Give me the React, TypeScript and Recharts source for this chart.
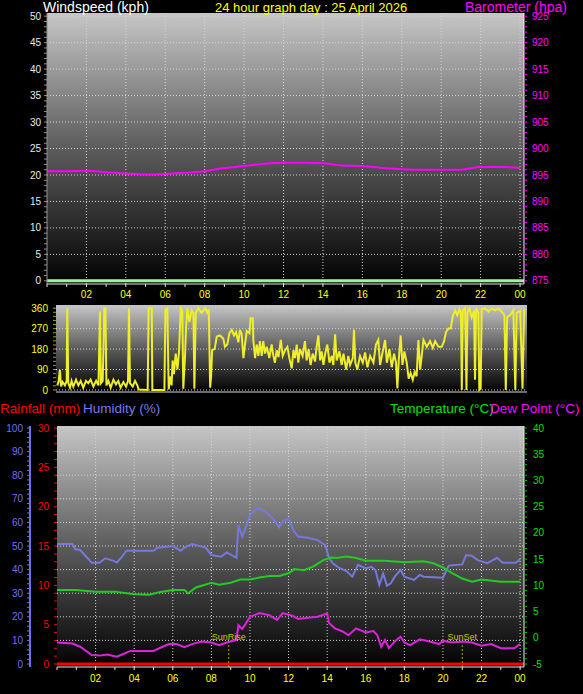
import React from "react";
import { LineChart, Line, XAxis, YAxis, CartesianGrid, ReferenceLine } from "recharts";

// ---- time axis (hours of the day) ----
const hourTicks = [0, 1, 2, 3, 4, 5, 6, 7, 8, 9, 10, 11, 12, 13, 14, 15, 16, 17, 18, 19, 20, 21, 22, 23, 24];
const evenHours = [2, 4, 6, 8, 10, 12, 14, 16, 18, 20, 22, 24];

// ---- top panel: windspeed + barometer ----
const windLabels = [0, 5, 10, 15, 20, 25, 30, 35, 40, 45, 50];
const baroLabels = [875, 880, 885, 890, 895, 900, 905, 910, 915, 920, 925];
const windHours = [0, 24.2];
const windValues = [0, 0];
const baroHours = [0, 1, 2, 3, 4, 5, 6, 7, 8, 9, 10, 11, 12, 13, 14, 15, 16, 17, 18, 19, 20, 21, 22, 23, 24];
const baroValues = [
  895.7, 895.7, 895.8, 895.5, 895.3, 895.1, 895.2, 895.4, 895.7, 896.3, 896.7, 897.1, 897.3,
  897.3, 897.2, 896.8, 896.7, 896.3, 896.1, 896.0, 896.0, 896.0, 896.5, 896.5, 896.3,
];

// ---- middle panel: wind direction ----
const dirLabels = [0, 90, 180, 270, 360];
const compassLabels = ["N", "E", "S", "W", "N"];
const dirHours = [
  0.07, 0.14, 0.2, 0.26, 0.34, 0.46, 0.55, 0.58, 0.63, 0.72, 0.8, 0.89, 1.03, 1.15, 1.27, 1.4, 1.54,
  1.66, 1.78, 1.92, 2.06, 2.18, 2.26, 2.31, 2.4, 2.48, 2.54, 2.59, 2.69, 2.81, 2.95, 3.08, 3.2, 3.32,
  3.46, 3.6, 3.7, 3.75, 3.8, 3.94, 4.06, 4.18, 4.25, 4.71, 4.76, 4.92, 4.95, 5.57, 5.62, 5.72, 5.79,
  5.86, 5.94, 5.99, 6.06, 6.15, 6.24, 6.32, 6.41, 6.49, 6.54, 6.63, 6.68, 6.75, 6.85, 6.97, 7.06,
  7.11, 7.18, 7.31, 7.48, 7.66, 7.77, 7.85, 7.92, 7.97, 8.02, 8.15, 8.26, 8.43, 8.6, 8.68, 8.8,
  8.91, 9.03, 9.15, 9.25, 9.37, 9.45, 9.54, 9.63, 9.71, 9.8, 9.94, 10.0, 10.11, 10.14, 10.23, 10.31,
  10.4, 10.48, 10.57, 10.65, 10.74, 10.83, 10.96, 11.08, 11.17, 11.25, 11.34, 11.43, 11.55, 11.65,
  11.77, 11.89, 11.99, 12.11, 12.2, 12.28, 12.37, 12.45, 12.54, 12.67, 12.79, 12.88, 12.98, 13.08,
  13.19, 13.31, 13.39, 13.48, 13.57, 13.65, 13.74, 13.83, 13.94, 14.05, 14.17, 14.25, 14.34, 14.42,
  14.56, 14.68, 14.77, 14.91, 15.02, 15.11, 15.25, 15.31, 15.38, 15.48, 15.62, 15.76, 15.88, 16.0,
  16.14, 16.31, 16.44, 16.56, 16.65, 16.79, 16.91, 17.0, 17.13, 17.25, 17.37, 17.47, 17.54, 17.61,
  17.71, 17.8, 17.9, 18.02, 18.12, 18.22, 18.33, 18.43, 18.53, 18.62, 18.71, 18.79, 18.88, 19.05,
  19.22, 19.36, 19.48, 19.65, 19.82, 19.94, 20.04, 20.16, 20.28, 20.39, 20.5, 20.62, 20.73, 20.81,
  20.85, 20.9, 21.02, 21.09, 21.14, 21.24, 21.36, 21.48, 21.53, 21.58, 21.7, 21.75, 21.82, 21.87,
  22.05, 22.22, 22.39, 22.56, 22.73, 22.9, 23.04, 23.11, 23.18, 23.33, 23.5, 23.6, 23.67, 23.85,
  23.97, 24.05,
];
const dirValues = [
  20, 40, 88, 15, 35, 20, 40, 360, 30, 10, 40, 15, 45, 20, 40, 10, 40,
  30, 45, 15, 40, 20, 345, 30, 40, 360, 360, 20, 40, 10, 45, 25, 40, 10,
  35, 15, 40, 360, 30, 15, 40, 20, 2, 0, 360, 360, 0, 0, 355, 360, 2,
  60, 20, 130, 70, 160, 90, 170, 360, 350, 5, 150, 270, 360, 300, 350, 340,
  5, 340, 360, 340, 360, 340, 355, 10, 60, 175, 180, 235, 240, 225, 190, 200,
  250, 265, 240, 255, 210, 265, 245, 140, 200, 260, 250, 316, 316, 220, 140, 200,
  150, 215, 150, 215, 160, 190, 140, 200, 150, 120, 175, 145, 220, 150,
  175, 190, 140, 95, 175, 140, 200, 120, 180, 150, 215, 130, 180, 110,
  160, 125, 190, 240, 130, 170, 110, 160, 200, 120, 150, 110, 245, 130,
  170, 110, 160, 90, 150, 110, 140, 265, 120, 90, 150, 120, 165, 100,
  150, 120, 200, 220, 110, 170, 220, 120, 180, 100, 160, 120, 7, 130,
  240, 110, 170, 120, 50, 75, 45, 80, 60, 220, 90, 150, 220, 190,
  215, 185, 215, 190, 190, 215, 255, 270, 270, 325, 350, 330, 355, 340,
  0, 350, 360, 0, 340, 360, 320, 350, 45, 360, 340, 0, 5, 355,
  360, 345, 360, 350, 360, 345, 330, 0, 320, 330, 350, 0, 340, 350,
  5, 355,
];

// ---- bottom panel: rainfall, humidity, temperature, dew point ----
const humLabels = [0, 10, 20, 30, 40, 50, 60, 70, 80, 90, 100];
const rainLabels = [0, 5, 10, 15, 20, 25, 30];
const tempLabels = [-5, 0, 5, 10, 15, 20, 25, 30, 35, 40];
const rainHours = [0, 24.2];
const rainValues = [0, 0];
const humHours = [
  0, 0.8, 0.95, 1.2, 1.8, 2.2, 2.5, 2.9, 3.1, 3.3, 3.6, 4, 5, 5.2, 6, 6.4, 6.6, 7, 7.7, 8, 8.5, 8.8,
  9.3, 9.4, 9.6, 9.8, 10, 10.4, 10.8, 11.2, 11.5, 11.7, 12, 12.3, 12.5, 13, 13.5, 13.9, 14.1, 14.3,
  14.6, 15, 15.3, 15.6, 16, 16.3, 16.5, 16.7, 16.9, 17.1, 17.3, 17.5, 17.8, 18, 18.5, 18.8, 19, 20,
  20.3, 21, 21.2, 21.5, 21.8, 22.3, 22.8, 23.1, 23.8, 24,
];
const humValues = [
  50.8, 50.8, 48.6, 48.3, 42.9, 42.9, 44.8, 43.8, 43, 44.8, 48, 48, 48, 49.3, 50, 48, 49.3, 50.8,
  49.3, 46.2, 45.5, 47.3, 45, 58.9, 54, 58.2, 63.1, 66.2, 64.5, 61.7, 57.9, 60.6, 61.4, 56, 54, 53.5,
  52.5, 50.4, 44.8, 42.7, 40.8, 39.4, 37, 42, 40.5, 41.2, 39.8, 33.5, 38.4, 33.2, 34.2, 37, 39.8, 37,
  35.6, 37.7, 37, 36.6, 41.7, 42.2, 46.2, 45.9, 44, 42.7, 45, 42.9, 43, 44.5,
];
const tempHours = [
  0, 1, 2, 3, 4, 4.8, 5.3, 6, 6.6, 6.8, 7.2, 8, 8.4, 9, 9.5, 10, 10.5, 11, 11.5, 12, 12.3, 12.8,
  13.3, 13.8, 14.2, 14.5, 15, 15.5, 16, 16.5, 17, 18, 19, 19.5, 20, 20.5, 21, 21.5, 22, 23, 24,
];
const tempValues = [
  9.1, 9.1, 8.8, 8.8, 8.3, 8.2, 8.7, 9.1, 9.1, 8.5, 9.6, 10.5, 10.1, 10.5, 11.1, 11.1, 11.5, 11.8,
  11.8, 12.3, 13.1, 12.9, 13.6, 14.8, 15.3, 15.2, 15.5, 15.2, 14.7, 14.7, 14.7, 14.4, 14.6, 14.2,
  13.4, 12.3, 11.3, 10.7, 11.1, 10.7, 10.7,
];
const dewHours = [
  0, 0.8, 1.2, 1.8, 2.2, 2.6, 3.1, 3.5, 3.8, 4.5, 5, 5.3, 5.8, 6.2, 6.6, 7, 7.5, 8, 8.4, 8.8, 9.3,
  9.4, 9.6, 9.8, 10, 10.5, 11, 11.4, 11.7, 12.2, 12.5, 13, 13.5, 14, 14.1, 14.4, 14.8, 15.1, 15.5,
  16, 16.4, 16.6, 16.8, 17, 17.2, 17.5, 17.8, 18, 18.3, 18.8, 19.3, 19.8, 20, 20.5, 21, 21.5, 22,
  22.5, 23, 23.7, 24,
];
const dewValues = [
  -0.9, -1.1, -1.7, -3.3, -3.4, -3.2, -3.6, -3, -2.5, -2.5, -2.5, -2, -1.2, -1.2, -1.8, -1.2, -0.7,
  -0.9, -1.4, -0.9, -0.4, 2.4, 1.7, 2.8, 4, 4.7, 4.3, 3.4, 4.7, 4.2, 3.6, 3.8, 4, 4.6, 2.8, 1.8, 1.2,
  0.5, 1.8, 1, 1.3, 0.5, -1.7, -0.4, -2, -0.7, 0.2, -0.9, -1.4, -0.3, -0.7, -1.2, -0.6, -0.9, -0.7,
  -0.9, -1.5, -1.2, -2, -2, -1.2,
];
const sunRiseHour = 8.9;
const sunSetHour = 21.0;

// ---- helpers ----
const rows = (hours: number[], values: number[]) => hours.map((h, i) => ({ h, v: values[i] }));
const minorTicks = (from: number, to: number, step: number) => {
  const out: number[] = [];
  for (let v = from; v <= to + 1e-9; v += step) out.push(Math.round(v * 100) / 100);
  return out;
};
const hourLabel = (h: number) => (h % 2 === 0 && h > 0 ? String(h % 24).padStart(2, "0") : "");
const onlyLabels = (labels: number[]) => (v: number) => (labels.includes(v) ? String(v) : "");

const FONT = "'Liberation Sans', Arial, sans-serif";
const tickFont = { fontSize: 10, fontFamily: FONT };

const BgGradient = ({ id }: { id: string }) => (
  <defs>
    <linearGradient id={id} x1="0" y1="0" x2="0" y2="1">
      <stop offset="0%" stopColor="#c6c6c6" />
      <stop offset="50%" stopColor="#5c5c5c" />
      <stop offset="100%" stopColor="#020202" />
    </linearGradient>
  </defs>
);

const title = (text: string, left: number, top: number, color: string, size = 14) => (
  <div
    style={{
      position: "absolute",
      left,
      top,
      color,
      fontSize: size,
      lineHeight: "15px",
      fontFamily: FONT,
      whiteSpace: "nowrap",
    }}
  >
    {text}
  </div>
);

export default function App() {
  const windRows = rows(windHours, windValues);
  const baroRows = rows(baroHours, baroValues);
  const dirRows = rows(dirHours, dirValues);
  const rainRows = rows(rainHours, rainValues);
  const humRows = rows(humHours, humValues);
  const tempRows = rows(tempHours, tempValues);
  const dewRows = rows(dewHours, dewValues);

  return (
    <div
      style={{
        position: "absolute",
        left: 0,
        top: 0,
        width: 583,
        height: 694,
        background: "#000",
        overflow: "hidden",
        fontFamily: FONT,
      }}
    >
      {/* top: windspeed + barometer */}
      <div style={{ position: "absolute", left: 0, top: 0 }}>
        <LineChart width={583} height={300} margin={{ top: 13, right: 0, bottom: 1, left: 0 }}>
          <BgGradient id="bgTop" />
          <CartesianGrid
            yAxisId="wind"
            fill="url(#bgTop)"
            stroke="#d4d4d4"
            strokeDasharray="1 2"
            verticalValues={evenHours}
            horizontalValues={windLabels}
          />
          <XAxis
            dataKey="h"
            type="number"
            domain={[0, 24.2]}
            ticks={hourTicks}
            interval={0}
            tickFormatter={hourLabel}
            height={15}
            tickSize={3}
            tickMargin={4}
            tick={{ ...tickFont, fill: "#ffff00" }}
            stroke="#e6e6e6"
          />
          <YAxis
            yAxisId="wind"
            width={47}
            domain={[-0.6, 50.6]}
            ticks={minorTicks(0, 50, 1)}
            interval={0}
            tickFormatter={onlyLabels(windLabels)}
            tickSize={3}
            tickMargin={3}
            tick={{ ...tickFont, fill: "#e4ecf4" }}
            stroke="#909090"
          />
          <YAxis
            yAxisId="baro"
            orientation="right"
            width={59}
            domain={[874.4, 925.6]}
            ticks={minorTicks(875, 925, 1)}
            interval={0}
            tickFormatter={onlyLabels(baroLabels)}
            tickSize={3}
            tickMargin={5}
            tick={{ ...tickFont, fill: "#ff00ff" }}
            tickLine={{ stroke: "#ff00ff" }}
            axisLine={{ stroke: "#f0f0f0" }}
          />
          <Line
            yAxisId="wind"
            data={windRows}
            dataKey="v"
            stroke="#a6eea6"
            strokeWidth={3}
            dot={false}
            isAnimationActive={false}
          />
          <Line
            yAxisId="baro"
            data={baroRows}
            dataKey="v"
            type="monotone"
            stroke="#ff00ff"
            strokeWidth={2}
            dot={false}
            isAnimationActive={false}
          />
        </LineChart>
      </div>

      {title("Windspeed (kph)", 43, 0, "#ffffff")}
      {title("24 hour graph day : 25 April 2026", 215, 0, "#ffff00", 13)}
      {title("Barometer (hpa)", 465, 0, "#ff00ff")}

      {/* middle: wind direction */}
      <div style={{ position: "absolute", left: 0, top: 300 }}>
        <LineChart width={583} height={95} margin={{ top: 5, right: 0, bottom: 2, left: 0 }}>
          <BgGradient id="bgMid" />
          <CartesianGrid
            yAxisId="dir"
            fill="url(#bgMid)"
            vertical={false}
            horizontalValues={dirLabels}
            stroke="#d0d0d0"
            strokeDasharray="1 2"
          />
          <XAxis
            dataKey="h"
            type="number"
            domain={[0, 24.2]}
            height={1}
            tick={false}
            tickLine={false}
            stroke="#d8d8d8"
          />
          <YAxis
            yAxisId="dir"
            width={56}
            domain={[-9, 374]}
            ticks={minorTicks(0, 360, 18)}
            interval={0}
            tickFormatter={onlyLabels(dirLabels)}
            tickSize={3}
            tickMargin={5}
            tick={{ ...tickFont, fill: "#ffff00" }}
            tickLine={{ stroke: "#a0a000" }}
            axisLine={false}
          />
          <YAxis
            yAxisId="compass"
            orientation="right"
            width={56}
            domain={[-9, 374]}
            ticks={dirLabels}
            interval={0}
            tickFormatter={(v: number) => compassLabels[dirLabels.indexOf(v)]}
            tickSize={0}
            tickMargin={16}
            tick={{ fontSize: 16, fontFamily: FONT, fill: "#ffff00" }}
            axisLine={false}
          />
          <Line
            yAxisId="dir"
            data={dirRows}
            dataKey="v"
            stroke="#eeee2a"
            strokeWidth={2}
            dot={false}
            isAnimationActive={false}
          />
        </LineChart>
      </div>

      {/* bottom: rainfall, humidity, temperature, dew point */}
      <div style={{ position: "absolute", left: 0, top: 400 }}>
        <LineChart width={583} height={294} margin={{ top: 26, right: 0, bottom: 10, left: 0 }}>
          <BgGradient id="bgBot" />
          <CartesianGrid
            yAxisId="rh"
            fill="url(#bgBot)"
            stroke="#d4d4d4"
            strokeDasharray="1 2"
            verticalValues={evenHours}
            horizontalValues={humLabels}
          />
          <XAxis
            dataKey="h"
            type="number"
            domain={[0, 24.2]}
            ticks={hourTicks}
            interval={0}
            tickFormatter={hourLabel}
            height={17}
            tickSize={3}
            tickMargin={5}
            tick={{ ...tickFont, fill: "#ffff00" }}
            stroke="#e6e6e6"
          />
          <YAxis
            yAxisId="rain"
            width={27}
            domain={[-0.38, 30.26]}
            ticks={minorTicks(0, 30, 1)}
            interval={0}
            tickFormatter={onlyLabels(rainLabels)}
            tickSize={3}
            tickMargin={5}
            tick={{ ...tickFont, fill: "#ff0000" }}
            tickLine={{ stroke: "#ff0000" }}
            axisLine={false}
          />
          <YAxis
            yAxisId="rh"
            width={30}
            domain={[-1.27, 100.85]}
            ticks={minorTicks(0, 100, 2)}
            interval={0}
            tickFormatter={onlyLabels(humLabels)}
            tickSize={3}
            tickMargin={4}
            tick={{ ...tickFont, fill: "#7070f0" }}
            tickLine={{ stroke: "#7070f0" }}
            axisLine={{ stroke: "#7070f0", strokeWidth: 2 }}
          />
          <YAxis
            yAxisId="temp"
            orientation="right"
            width={59}
            domain={[-5.57, 40.38]}
            ticks={minorTicks(-5, 40, 1)}
            interval={0}
            tickFormatter={onlyLabels(tempLabels)}
            tickSize={3}
            tickMargin={6}
            tick={{ ...tickFont, fill: "#00e000" }}
            tickLine={{ stroke: "#00c000" }}
            axisLine={{ stroke: "#f0f0f0" }}
          />
          <ReferenceLine
            yAxisId="rh"
            segment={[
              { x: sunRiseHour, y: -1.27 },
              { x: sunRiseHour, y: 8 },
            ]}
            stroke="#b0b000"
            strokeDasharray="2 2"
            label={{ value: "SunRise", position: "top", fill: "#c8c800", fontSize: 9, fontFamily: FONT }}
          />
          <ReferenceLine
            yAxisId="rh"
            segment={[
              { x: sunSetHour, y: -1.27 },
              { x: sunSetHour, y: 8 },
            ]}
            stroke="#b0b000"
            strokeDasharray="2 2"
            label={{ value: "SunSet", position: "top", fill: "#c8c800", fontSize: 9, fontFamily: FONT }}
          />
          <Line
            yAxisId="rain"
            data={rainRows}
            dataKey="v"
            stroke="#ff0000"
            strokeWidth={3}
            dot={false}
            isAnimationActive={false}
          />
          <Line
            yAxisId="rh"
            data={humRows}
            dataKey="v"
            stroke="#7777dd"
            strokeWidth={2}
            dot={false}
            isAnimationActive={false}
          />
          <Line
            yAxisId="temp"
            data={tempRows}
            dataKey="v"
            stroke="#22cc22"
            strokeWidth={2}
            dot={false}
            isAnimationActive={false}
          />
          <Line
            yAxisId="temp"
            data={dewRows}
            dataKey="v"
            stroke="#dd22dd"
            strokeWidth={2}
            dot={false}
            isAnimationActive={false}
          />
        </LineChart>
      </div>

      {title("Rainfall (mm)", 0, 401, "#ff0000", 13.5)}
      {title("Humidity (%)", 83, 401, "#7878f0", 13.5)}
      {title("Temperature (°C)", 390, 401, "#00e000", 13.5)}
      {title("Dew Point (°C)", 490, 401, "#ff00ff", 13.5)}
    </div>
  );
}
